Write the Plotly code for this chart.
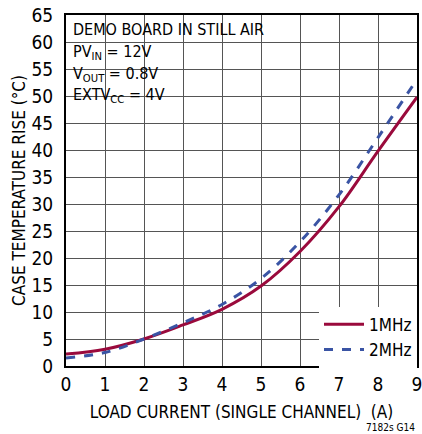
import plotly.graph_objects as go

current = [0, 1, 2, 3, 4, 5, 6, 7, 8, 9]
rise_1mhz = [2.2, 3.1, 5.0, 7.6, 10.5, 14.8, 21.2, 29.5, 39.8, 49.8]
rise_2mhz = [1.5, 2.5, 5.0, 8.0, 11.4, 16.2, 23.0, 31.7, 42.3, 53.1]
series_names = ["1MHz", "2MHz"]
x_ticks = list(range(0, 10))
y_ticks = list(range(0, 70, 5))
notes = ["DEMO BOARD IN STILL AIR", "PV<sub>IN</sub> = 12V",
         "V<sub>OUT</sub> = 0.8V", "EXTV<sub>CC</sub> = 4V"]

FONT = "DejaVu Sans Condensed, Liberation Sans Narrow, Arial Narrow, sans-serif"
RED = "#9a0a3c"
BLUE = "#3a54a4"

fig = go.Figure()
fig.add_trace(go.Scatter(x=current, y=rise_1mhz, name=series_names[0], mode="lines",
                         line=dict(color=RED, width=3, shape="spline")))
fig.add_trace(go.Scatter(x=current, y=rise_2mhz, name=series_names[1], mode="lines",
                         line=dict(color=BLUE, width=3, shape="spline", dash="dash")))

# white box behind notes (hides grid)
fig.add_shape(type="rect", xref="paper", yref="paper", x0=0, x1=0.64, y0=0.73, y1=1,
              fillcolor="white", line=dict(width=0), layer="between")

for i, t in enumerate(notes):
    fig.add_annotation(text=t, xref="paper", yref="paper", x=0.014, y=0.991 - i * 0.062,
                       xanchor="left", yanchor="top", showarrow=False,
                       font=dict(family=FONT, size=16, color="black"))

fig.add_annotation(text="7182s G14", xref="paper", yref="paper", x=1.0, y=-0.174,
                   xanchor="right", yanchor="middle", showarrow=False,
                   font=dict(family=FONT, size=10, color="black"))

axis_common = dict(showline=True, linecolor="black", linewidth=2, mirror=True,
                   showgrid=True, gridcolor="#555555", gridwidth=1, zeroline=False,
                   ticks="", automargin=False, ticklabeloverflow="allow",
                   tickfont=dict(family=FONT, size=19, color="black"))

fig.update_xaxes(range=[0, 9], tickvals=x_ticks, ticktext=[str(v) for v in x_ticks],
                 title=dict(text="LOAD CURRENT (SINGLE CHANNEL)  (A)", standoff=12,
                            font=dict(family=FONT, size=17, color="black")), **axis_common)
fig.update_yaxes(range=[0, 65], tickvals=y_ticks, ticktext=[str(v) for v in y_ticks],
                 ticklabelstandoff=7,
                 title=dict(text="CASE TEMPERATURE RISE (°C)", standoff=2,
                            font=dict(family=FONT, size=17, color="black")), **axis_common)

fig.update_layout(
    width=422, height=434,
    margin=dict(l=66, r=5, t=15, b=68),
    paper_bgcolor="white", plot_bgcolor="white",
    showlegend=True,
    legend=dict(x=1.0, y=-0.005, xanchor="right", yanchor="bottom", bgcolor="white",
                borderwidth=0, font=dict(family=FONT, size=17, color="black"),
                tracegroupgap=0, itemwidth=40),
    font=dict(family=FONT),
)

# remove the default page margin so the figure fills the window exactly
fig.write_html("out.html", config={"displayModeBar": False},
               post_script="document.body.style.margin='0';document.body.style.overflow='hidden';")
